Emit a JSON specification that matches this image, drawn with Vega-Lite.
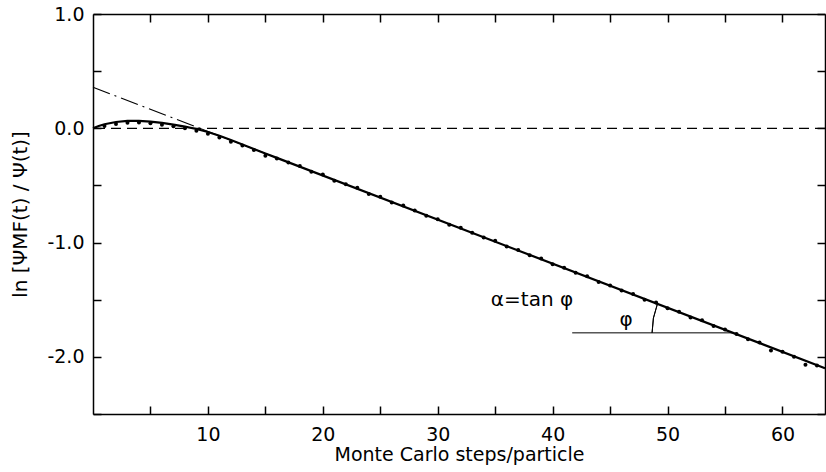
{
  "$schema": "https://vega.github.io/schema/vega-lite/v6.json",
  "autosize": {"type": "none"},
  "width": 732,
  "height": 400,
  "padding": {"left": 93, "top": 14, "right": 1, "bottom": 58},
  "background": "white",
  "config": {
    "view": {"stroke": null},
    "font": "DejaVu Sans",
    "axis": {
      "grid": false,
      "domainColor": "black",
      "domainWidth": 1.5,
      "tickColor": "black",
      "tickWidth": 1.5,
      "labelColor": "black",
      "titleColor": "black",
      "labelFont": "DejaVu Sans",
      "titleFont": "DejaVu Sans",
      "labelFontSize": 19,
      "titleFontSize": 20,
      "titleFontWeight": "normal"
    }
  },
  "datasets": {
    "dots": [
      {"t": 1, "v": 0.02}, {"t": 2, "v": 0.038}, {"t": 3, "v": 0.048}, {"t": 4, "v": 0.05},
      {"t": 5, "v": 0.043}, {"t": 6, "v": 0.032}, {"t": 7, "v": 0.018}, {"t": 8, "v": 0.0},
      {"t": 9, "v": -0.022}, {"t": 10, "v": -0.047}, {"t": 11, "v": -0.08}, {"t": 12, "v": -0.118},
      {"t": 13, "v": -0.15}, {"t": 14, "v": -0.19}, {"t": 15, "v": -0.24}, {"t": 16, "v": -0.265},
      {"t": 17, "v": -0.3}, {"t": 18, "v": -0.33}, {"t": 19, "v": -0.38}, {"t": 20, "v": -0.405},
      {"t": 21, "v": -0.46}, {"t": 22, "v": -0.49}, {"t": 23, "v": -0.52}, {"t": 24, "v": -0.575},
      {"t": 25, "v": -0.6}, {"t": 26, "v": -0.65}, {"t": 27, "v": -0.675}, {"t": 28, "v": -0.72},
      {"t": 29, "v": -0.765}, {"t": 30, "v": -0.795}, {"t": 31, "v": -0.845}, {"t": 32, "v": -0.87},
      {"t": 33, "v": -0.915}, {"t": 34, "v": -0.955}, {"t": 35, "v": -0.985}, {"t": 36, "v": -1.035},
      {"t": 37, "v": -1.065}, {"t": 38, "v": -1.11}, {"t": 39, "v": -1.14}, {"t": 40, "v": -1.19},
      {"t": 41, "v": -1.22}, {"t": 42, "v": -1.265}, {"t": 43, "v": -1.295}, {"t": 44, "v": -1.345},
      {"t": 45, "v": -1.375}, {"t": 46, "v": -1.42}, {"t": 47, "v": -1.45}, {"t": 48, "v": -1.5},
      {"t": 49, "v": -1.525}, {"t": 50, "v": -1.575}, {"t": 51, "v": -1.605}, {"t": 52, "v": -1.655},
      {"t": 53, "v": -1.68}, {"t": 54, "v": -1.73}, {"t": 55, "v": -1.76}, {"t": 56, "v": -1.8},
      {"t": 57, "v": -1.845}, {"t": 58, "v": -1.875}, {"t": 59, "v": -1.945}, {"t": 60, "v": -1.955},
      {"t": 61, "v": -2.0}, {"t": 62, "v": -2.07}, {"t": 63, "v": -2.075}
    ],
    "curve": [
      {"t": 0, "v": 0.0}, {"t": 0.5, "v": 0.02}, {"t": 1, "v": 0.035}, {"t": 2, "v": 0.055},
      {"t": 3, "v": 0.064}, {"t": 4, "v": 0.065}, {"t": 5, "v": 0.059}, {"t": 6, "v": 0.047},
      {"t": 7, "v": 0.032}, {"t": 8, "v": 0.014}, {"t": 9, "v": -0.006}, {"t": 10, "v": -0.033},
      {"t": 11, "v": -0.066}, {"t": 12, "v": -0.103}, {"t": 13, "v": -0.142}, {"t": 14, "v": -0.182},
      {"t": 15, "v": -0.221}, {"t": 16, "v": -0.259}, {"t": 63.7, "v": -2.099}
    ],
    "zero": [{"v": 0}],
    "dashdot": [{"t": 0, "v": 0.359}, {"t": 9.3, "v": 0.0}],
    "thin": [{"t": 9.3, "v": 0.0}, {"t": 16.5, "v": -0.278}],
    "horiz": [{"t": 41.7, "v": -1.79}, {"t": 55.7, "v": -1.79}],
    "arcc": [{"t": 55.7, "v": -1.79}],
    "labels": [
      {"t": 38.2, "v": -1.5, "s": "α=tan φ"},
      {"t": 46.4, "v": -1.68, "s": "φ"}
    ]
  },
  "resolve": {"axis": {"x": "independent", "y": "independent"}},
  "layer": [
    {
      "data": {"name": "dots"},
      "mark": {"type": "circle", "size": 16, "color": "black", "opacity": 1},
      "encoding": {
        "x": {
          "field": "t", "type": "quantitative",
          "scale": {"domain": [0, 63.7], "nice": false, "zero": false},
          "axis": {
            "orient": "bottom",
            "title": "Monte Carlo steps/particle",
            "titleFontSize": 19,
            "values": [5, 10, 15, 20, 25, 30, 35, 40, 45, 50, 55, 60],
            "labelExpr": "datum.value % 10 == 0 ? datum.label : ''",
            "tickSize": -8,
            "labelPadding": 19,
            "titlePadding": 1
          }
        },
        "y": {
          "field": "v", "type": "quantitative",
          "scale": {"domain": [-2.5, 1.0], "nice": false, "zero": false},
          "axis": {
            "orient": "left",
            "title": "ln [ΨMF(t) / Ψ(t)]",
            "values": [-2.5, -2, -1.5, -1, -0.5, 0, 0.5, 1],
            "labelExpr": "(datum.value % 1 == 0 && datum.value > -2.5) ? replace(format(datum.value, '.1f'), '−', '-') : ''",
            "tickSize": -8,
            "labelPadding": 17,
            "titlePadding": 16
          }
        }
      }
    },
    {
      "data": {"name": "curve"},
      "mark": {"type": "line", "color": "black", "strokeWidth": 2.2},
      "encoding": {
        "x": {
          "field": "t", "type": "quantitative",
          "axis": {
            "orient": "top", "title": null, "labels": false,
            "values": [5, 10, 15, 20, 25, 30, 35, 40, 45, 50, 55, 60],
            "tickSize": -8
          }
        },
        "y": {
          "field": "v", "type": "quantitative",
          "axis": {
            "orient": "right", "title": null, "labels": false,
            "values": [-2.5, -2, -1.5, -1, -0.5, 0, 0.5, 1],
            "tickSize": -8
          }
        }
      }
    },
    {
      "data": {"name": "zero"},
      "mark": {"type": "rule", "color": "black", "strokeWidth": 1.3, "strokeDash": [10, 6]},
      "encoding": {"y": {"field": "v", "type": "quantitative", "axis": null}}
    },
    {
      "data": {"name": "dashdot"},
      "mark": {"type": "line", "color": "black", "strokeWidth": 1.2, "strokeDash": [18, 5, 2, 5]},
      "encoding": {
        "x": {"field": "t", "type": "quantitative", "axis": null},
        "y": {"field": "v", "type": "quantitative", "axis": null}
      }
    },
    {
      "data": {"name": "thin"},
      "mark": {"type": "line", "color": "black", "strokeWidth": 1},
      "encoding": {
        "x": {"field": "t", "type": "quantitative", "axis": null},
        "y": {"field": "v", "type": "quantitative", "axis": null}
      }
    },
    {
      "data": {"name": "horiz"},
      "mark": {"type": "line", "color": "black", "strokeWidth": 1},
      "encoding": {
        "x": {"field": "t", "type": "quantitative", "axis": null},
        "y": {"field": "v", "type": "quantitative", "axis": null}
      }
    },
    {
      "data": {"name": "arcc"},
      "mark": {"type": "arc", "radius": 81, "radius2": 81, "theta": 4.7124, "theta2": 5.079, "fill": null, "stroke": "black", "strokeWidth": 1},
      "encoding": {
        "x": {"field": "t", "type": "quantitative", "axis": null},
        "y": {"field": "v", "type": "quantitative", "axis": null}
      }
    },
    {
      "data": {"name": "labels"},
      "mark": {"type": "text", "color": "black", "fontSize": 20, "font": "DejaVu Sans"},
      "encoding": {
        "x": {"field": "t", "type": "quantitative", "axis": null},
        "y": {"field": "v", "type": "quantitative", "axis": null},
        "text": {"field": "s"}
      }
    }
  ]
}
